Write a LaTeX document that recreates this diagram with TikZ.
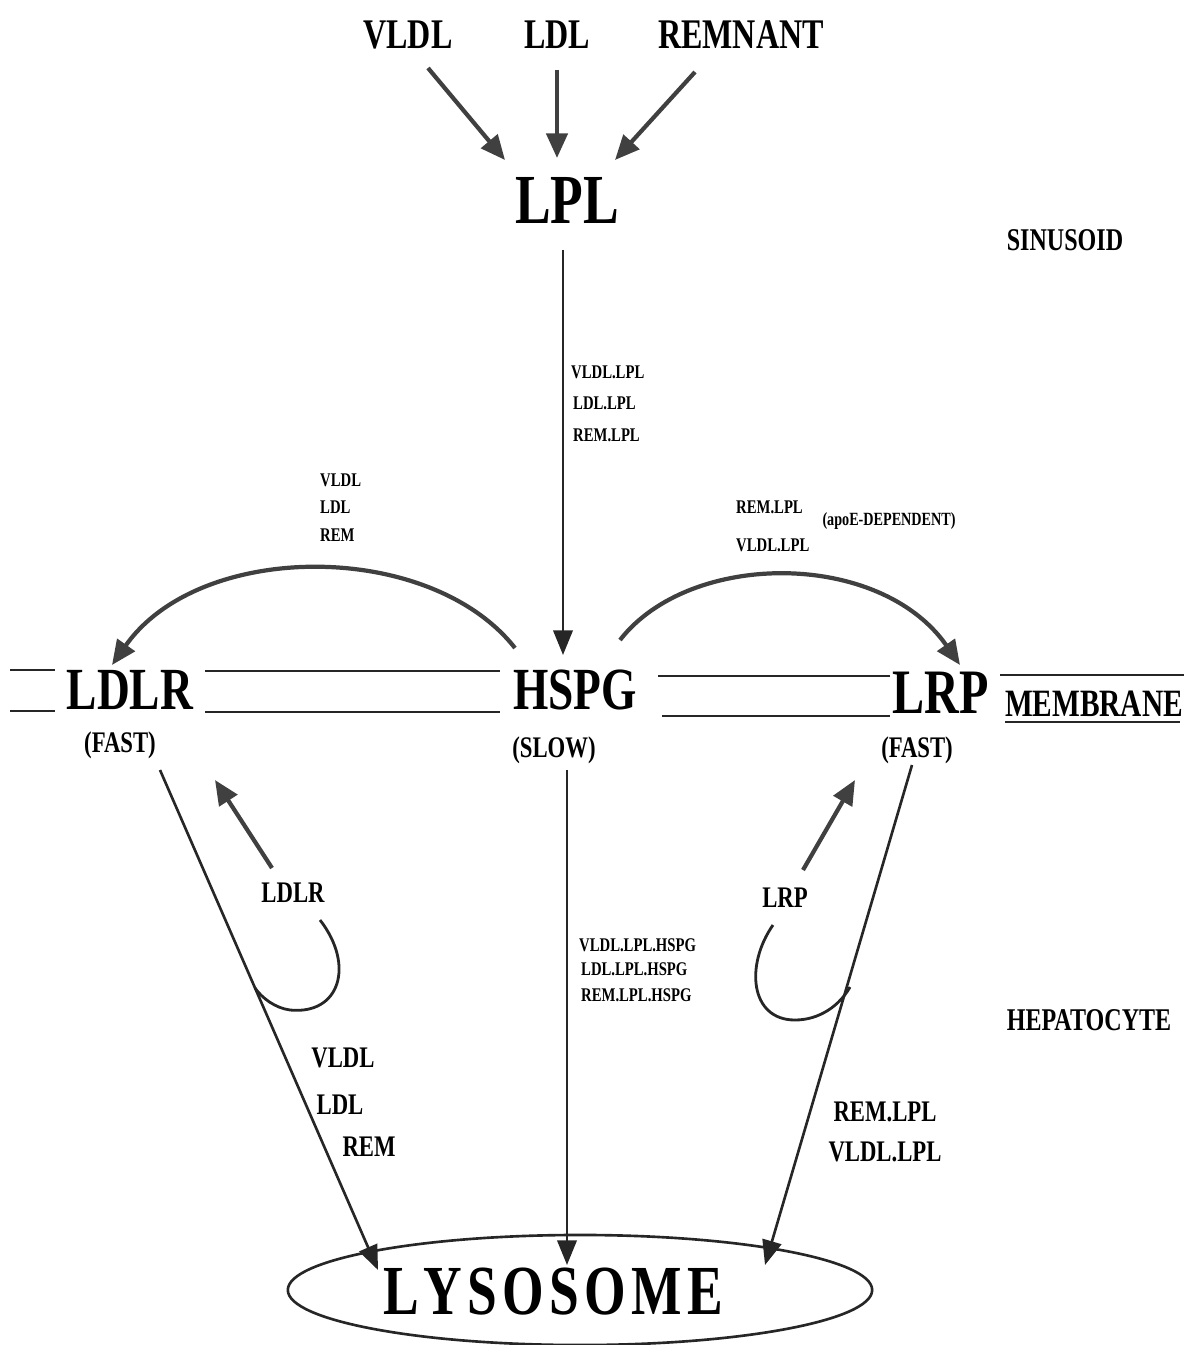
\documentclass[tikz,border=0pt]{standalone}
\usepackage{fontspec}
\setmainfont{Liberation Serif}[FakeStretch=0.76]
\usetikzlibrary{arrows.meta,calc,shapes.geometric}

\begin{document}
\begin{tikzpicture}[x=0.01cm,y=-0.01cm,
  txt/.style={inner sep=1pt,font=\fontsize{#1}{#1}\selectfont\bfseries},
  fat/.style={draw=black!75,line width=1.2pt,-{Triangle[length=7pt,width=6pt]}},
  thin/.style={draw=black!85,line width=0.75pt,-{Triangle[length=7pt,width=5.5pt]}},
  mem/.style={draw=black!85,line width=0.8pt}]
\useasboundingbox (0,0) rectangle (1184,1345);
% sinusoid side
\node[txt=12] (vldl) at (408,35) {VLDL};
\node[txt=12] (ldl) at (557,35) {LDL};
\node[txt=12] (rem) at (741,35) {REMNANT};
\node[txt=20] (lpl) at (567,200) {LPL};
\node[txt=9] (sin) at (1065,240) {SINUSOID};
\draw[fat] ($(vldl)+(20,33)$) -- ($(lpl)+(-62,-40)$);
\draw[fat] ($(ldl)+(0,35)$) -- ($(lpl)+(-10,-42)$);
\draw[fat] ($(rem)+(-46,37)$) -- ($(lpl)+(48,-40)$);
\node[txt=5.5,anchor=west] (c1) at (567,372) {VLDL.LPL};
\node[txt=5.5,anchor=west] (c2) at (569,403) {LDL.LPL};
\node[txt=5.5,anchor=west] (c3) at (569,435) {REM.LPL};
\node[txt=5.5,anchor=west] (f1) at (316,480) {VLDL};
\node[txt=5.5,anchor=west] (f2) at (316,507) {LDL};
\node[txt=5.5,anchor=west] (f3) at (316,535) {REM};
\node[txt=5.5,anchor=west] (g1) at (732,507) {REM.LPL};
\node[txt=5.5,anchor=west] (g2) at (732,545) {VLDL.LPL};
\node[txt=5.3] (apoe) at (889,521) {(apoE-DEPENDENT)};
% membrane
\node[txt=17] (ldlr) at (130,690) {LDLR};
\node[txt=17] (hspg) at (575,690) {HSPG};
\node[txt=18] (lrp) at (941,693) {LRP};
\node[txt=11] (memb) at (1094,704) {MEMBRANE};
\node[txt=8.5] (fast1) at (120,745) {(FAST)};
\node[txt=8.5] (slow) at (554,750) {(SLOW)};
\node[txt=8.5] (fast2) at (917,750) {(FAST)};
\draw[mem] (10,670) -- (55,670) (10,711) -- (55,711);
\draw[mem] (205,671) -- (500,671) (205,712) -- (500,712);
\draw[mem] (658,676) -- (890,676) (662,716) -- (890,716);
\draw[mem] (1000,675) -- (1184,675) (1005,722) -- (1180,722);
\draw[thin] ($(lpl)+(-4,50)$) -- ($(hspg)+(-12,-35)$);
\draw[fat] ($(hspg)+(-60,-42)$) .. controls (430,540) and (200,540) .. ($(ldlr)+(-18,-25)$);
\draw[fat] ($(hspg)+(45,-50)$) .. controls (690,550) and (880,550) .. ($(lrp)+(19,-28)$);
% hepatocyte side
\node[txt=9] (hep) at (1089,1020) {HEPATOCYTE};
\node[draw=black!85,line width=0.75pt,ellipse,minimum width=5.84cm,minimum height=1.1cm] (lys) at (580,1290) {};
\node[txt=20] (lystxt) at (553,1292) {L\kern1.5pt Y\kern1.5pt S\kern1.5pt O\kern1.5pt S\kern1.5pt O\kern1.5pt M\kern1.5pt E};
\node[txt=8.5] (ldlrin) at (293,893) {LDLR};
\node[txt=8.5] (lrpin) at (785,898) {LRP};
\draw[fat] ($(ldlrin)+(-21,-25)$) -- ($(ldlr)+(85,90)$);
\draw[fat] ($(lrpin)+(18,-28)$) -- ($(lrp)+(-86,87)$);
\draw[thin] ($(ldlr)+(30,80)$) -- ($(lys)+(-202,-20)$);
\draw[thin] ($(hspg)+(-8,80)$) -- ($(lys)+(-13,-25)$);
\draw[thin] ($(lrp)+(-29,72)$) -- ($(lys)+(185,-25)$);
\draw[mem] (320,920) .. controls (355,965) and (340,1015) .. (290,1010)
  .. controls (275,1008) and (262,998) .. (255,988);
\draw[mem] (773,925) .. controls (745,965) and (750,1020) .. (795,1020)
  .. controls (820,1020) and (840,1005) .. (850,987);
\node[txt=5.5,anchor=west] (h1) at (575,945) {VLDL.LPL.HSPG};
\node[txt=5.5,anchor=west] (h2) at (577,969) {LDL.LPL.HSPG};
\node[txt=5.5,anchor=west] (h3) at (577,995) {REM.LPL.HSPG};
\node[txt=8.5] (d1) at (343,1058) {VLDL};
\node[txt=8.5] (d2) at (340,1105) {LDL};
\node[txt=8.5] (d3) at (369,1147) {REM};
\node[txt=8.5] (e1) at (885,1112) {REM.LPL};
\node[txt=8.5] (e2) at (885,1152) {VLDL.LPL};
\end{tikzpicture}
\end{document}
